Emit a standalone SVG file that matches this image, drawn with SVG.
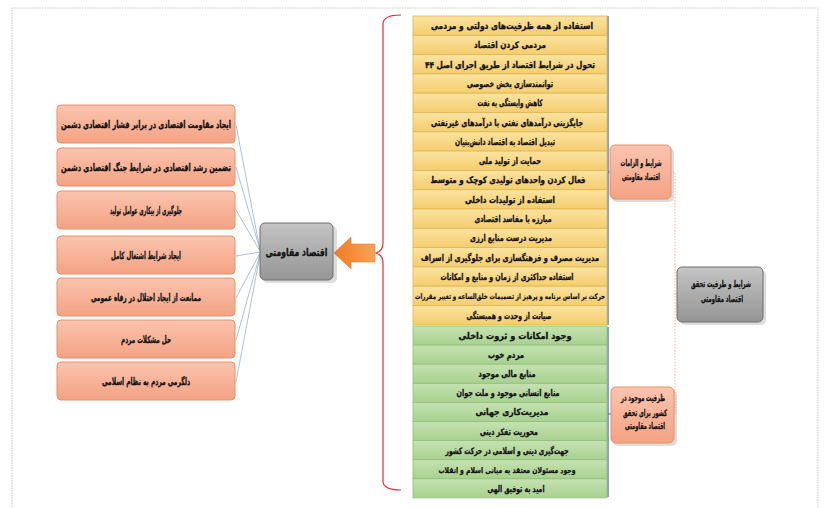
<svg xmlns="http://www.w3.org/2000/svg" width="825" height="508" viewBox="0 0 825 508">
<defs>
<linearGradient id="gy" x1="0" y1="0" x2="0" y2="1"><stop offset="0" stop-color="#fbe3a0"/><stop offset="1" stop-color="#f4cd6e"/></linearGradient>
<linearGradient id="gg" x1="0" y1="0" x2="0" y2="1"><stop offset="0" stop-color="#c5e2b2"/><stop offset="1" stop-color="#a9d18f"/></linearGradient>
<linearGradient id="gs" x1="0" y1="0" x2="0" y2="1"><stop offset="0" stop-color="#fbc4ae"/><stop offset="1" stop-color="#f4a283"/></linearGradient>
<linearGradient id="ga" x1="0" y1="0" x2="0" y2="1"><stop offset="0" stop-color="#c4c4c4"/><stop offset="1" stop-color="#959595"/></linearGradient>
<linearGradient id="go" x1="0" y1="0" x2="1" y2="0"><stop offset="0" stop-color="#f07a1e"/><stop offset="1" stop-color="#f9a45c"/></linearGradient>
</defs>
<style>
.t{font-family:"DejaVu Sans","Noto Sans",sans-serif;font-weight:bold;fill:#111;stroke:#111;stroke-width:0.3;text-anchor:middle;direction:rtl}
.s{font-size:9px}
.m{font-size:10px}
.y{fill:url(#gy);stroke:#e3b64e;stroke-width:0.8}
.g{fill:url(#gg);stroke:#8fbd78;stroke-width:0.8}
.o{fill:url(#gs);stroke:#e4906e;stroke-width:1}
.a{fill:url(#ga);stroke:#6f6f6f;stroke-width:1}
.sh{fill:#9a9a9a;opacity:0.35}
.c{stroke:#8ea3bd;stroke-width:0.7;fill:none}
</style>
<rect x="12" y="8" width="806" height="512" fill="#fff" stroke="#c8c8c8" stroke-width="1" stroke-dasharray="1.5,1"/>

<g id="connectors">
<path class="c" d="M236 125 L260 250 M236 167 L260 250 M236 210 L260 251 M236 256 L260 252 M236 298 L260 253 M236 340 L260 254 M236 382 L260 255"/>
<path d="M401 15 Q383 15 383 24 L383 243 Q383 251 376 253 Q383 255 383 263 L383 481 Q383 490 401 490" fill="none" stroke="#e0303a" stroke-width="1.2"/>
<path d="M375 244 L351 244 L351 237 L334 253 L351 269 L351 262 L375 262 Z" fill="url(#go)" stroke="#e06a10" stroke-width="0.5"/>
<path d="M608 16 L608 325 M608 172 L611 172" stroke="#3d5fb5" stroke-width="1.2" fill="none"/>
<path d="M608 327 L608 497 M608 414 L611 414" stroke="#3d5fb5" stroke-width="1.2" fill="none"/>
<path d="M670 172 L675 172 L675 414 L674 414 M675 294 L677 294" stroke="#f3b08a" stroke-width="1" stroke-dasharray="1.5,1.5" fill="none"/>
</g>

<g id="center">
<rect class="sh" x="263" y="226" width="74" height="57" rx="5"/>
<rect class="a" x="260" y="223" width="73" height="57" rx="5"/>
<text class="t" x="296.5" y="256" style="font-size:11px" textLength="62" lengthAdjust="spacingAndGlyphs">اقتصاد مقاومتی</text>
</g>

<g id="left">
<g id="l1"><rect class="o" x="57" y="105" width="178" height="38" rx="4"/><text class="t m" x="146" y="127.5" textLength="170" lengthAdjust="spacingAndGlyphs">ایجاد مقاومت اقتصادی در برابر فشار اقتصادی دشمن</text></g>
<g id="l2"><rect class="o" x="57" y="148" width="178" height="38" rx="4"/><text class="t m" x="146" y="170.5" textLength="170" lengthAdjust="spacingAndGlyphs">تضمین رشد اقتصادی در شرایط جنگ اقتصادی دشمن</text></g>
<g id="l3"><rect class="o" x="57" y="191" width="178" height="38" rx="4"/><text class="t m" x="146" y="213.5" textLength="72" lengthAdjust="spacingAndGlyphs">جلوگیری از بیکاری عوامل تولید</text></g>
<g id="l4"><rect class="o" x="57" y="236" width="178" height="38" rx="4"/><text class="t m" x="146" y="258.5" textLength="70" lengthAdjust="spacingAndGlyphs">ایجاد شرایط اشتغال کامل</text></g>
<g id="l5"><rect class="o" x="57" y="278" width="178" height="38" rx="4"/><text class="t m" x="146" y="300.5" textLength="110" lengthAdjust="spacingAndGlyphs">ممانعت از ایجاد اختلال در رفاه عمومی</text></g>
<g id="l6"><rect class="o" x="57" y="320" width="178" height="38" rx="4"/><text class="t m" x="146" y="342.5" textLength="50" lengthAdjust="spacingAndGlyphs">حل مشکلات مردم</text></g>
<g id="l7"><rect class="o" x="57" y="362" width="178" height="38" rx="4"/><text class="t m" x="146" y="384.5" textLength="88" lengthAdjust="spacingAndGlyphs">دلگرمی مردم به نظام اسلامی</text></g>
</g>

<g id="yellow">
<g id="y1"><rect class="y" x="413" y="16" width="194" height="19.3"/><text class="t s" x="512" y="29" textLength="162" lengthAdjust="spacingAndGlyphs">استفاده از همه ظرفیت‌های دولتی و مردمی</text></g>
<g id="y2"><rect class="y" x="413" y="35.3" width="194" height="19.3"/><text class="t s" x="510" y="48.3" textLength="72" lengthAdjust="spacingAndGlyphs">مردمی کردن اقتصاد</text></g>
<g id="y3"><rect class="y" x="413" y="54.6" width="194" height="19.3"/><text class="t s" x="510" y="67.6" textLength="170" lengthAdjust="spacingAndGlyphs">تحول در شرایط اقتصاد از طریق اجرای اصل ۴۴</text></g>
<g id="y4"><rect class="y" x="413" y="73.9" width="194" height="19.3"/><text class="t s" x="510" y="86.9" textLength="86" lengthAdjust="spacingAndGlyphs">توانمندسازی بخش خصوصی</text></g>
<g id="y5"><rect class="y" x="413" y="93.2" width="194" height="19.3"/><text class="t s" x="510" y="106.2" textLength="65" lengthAdjust="spacingAndGlyphs">کاهش وابستگی به نفت</text></g>
<g id="y6"><rect class="y" x="413" y="112.5" width="194" height="19.3"/><text class="t s" x="507" y="125.5" textLength="152" lengthAdjust="spacingAndGlyphs">جایگزینی درآمدهای نفتی با درآمدهای غیرنفتی</text></g>
<g id="y7"><rect class="y" x="413" y="131.8" width="194" height="19.3"/><text class="t s" x="505" y="144.8" textLength="100" lengthAdjust="spacingAndGlyphs">تبدیل اقتصاد به اقتصاد دانش‌بنیان</text></g>
<g id="y8"><rect class="y" x="413" y="151.1" width="194" height="19.3"/><text class="t s" x="510" y="164.1" textLength="62" lengthAdjust="spacingAndGlyphs">حمایت از تولید ملی</text></g>
<g id="y9"><rect class="y" x="413" y="170.4" width="194" height="19.3"/><text class="t s" x="508" y="183.4" textLength="155" lengthAdjust="spacingAndGlyphs">فعال کردن واحدهای تولیدی کوچک و متوسط</text></g>
<g id="y10"><rect class="y" x="413" y="189.7" width="194" height="19.3"/><text class="t s" x="510" y="202.7" textLength="90" lengthAdjust="spacingAndGlyphs">استفاده از تولیدات داخلی</text></g>
<g id="y11"><rect class="y" x="413" y="209" width="194" height="19.3"/><text class="t s" x="513" y="222" textLength="77" lengthAdjust="spacingAndGlyphs">مبارزه با مفاسد اقتصادی</text></g>
<g id="y12"><rect class="y" x="413" y="228.3" width="194" height="19.3"/><text class="t s" x="511" y="241.3" textLength="82" lengthAdjust="spacingAndGlyphs">مدیریت درست منابع ارزی</text></g>
<g id="y13"><rect class="y" x="413" y="247.6" width="194" height="19.3"/><text class="t s" x="510" y="260.6" textLength="178" lengthAdjust="spacingAndGlyphs">مدیریت مصرف و فرهنگسازی برای جلوگیری از اسراف</text></g>
<g id="y14"><rect class="y" x="413" y="266.9" width="194" height="19.3"/><text class="t s" x="507" y="279.9" textLength="133" lengthAdjust="spacingAndGlyphs">استفاده حداکثری از زمان و منابع و امکانات</text></g>
<g id="y15"><rect class="y" x="413" y="286.2" width="194" height="19.3"/><text class="t" x="510" y="298.9" style="font-size:7.5px;stroke-width:0.2" textLength="190" lengthAdjust="spacingAndGlyphs">حرکت بر اساس برنامه و پرهیز از تصمیمات خلق‌الساعه و تغییر مقررات</text></g>
<g id="y16"><rect class="y" x="413" y="305.5" width="194" height="19.3"/><text class="t s" x="509" y="318.5" textLength="85" lengthAdjust="spacingAndGlyphs">صیانت از وحدت و همبستگی</text></g>
</g>

<g id="green">
<g id="g1"><rect class="g" x="413" y="326" width="194" height="19.1"/><text class="t s" x="515" y="339" textLength="113" lengthAdjust="spacingAndGlyphs">وجود امکانات و ثروت داخلی</text></g>
<g id="g2"><rect class="g" x="413" y="345.1" width="194" height="19.1"/><text class="t s" x="506" y="358.1" textLength="36" lengthAdjust="spacingAndGlyphs">مردم خوب</text></g>
<g id="g3"><rect class="g" x="413" y="364.2" width="194" height="19.1"/><text class="t s" x="507" y="377.2" textLength="57" lengthAdjust="spacingAndGlyphs">منابع مالی موجود</text></g>
<g id="g4"><rect class="g" x="413" y="383.3" width="194" height="19.1"/><text class="t s" x="508" y="396.3" textLength="103" lengthAdjust="spacingAndGlyphs">منابع انسانی موجود و ملت جوان</text></g>
<g id="g5"><rect class="g" x="413" y="402.4" width="194" height="19.1"/><text class="t s" x="512" y="415.4" textLength="73" lengthAdjust="spacingAndGlyphs">مدیریت‌کاری جهانی</text></g>
<g id="g6"><rect class="g" x="413" y="421.5" width="194" height="19.1"/><text class="t s" x="509" y="434.5" textLength="58" lengthAdjust="spacingAndGlyphs">محوریت تفکر دینی</text></g>
<g id="g7"><rect class="g" x="413" y="440.6" width="194" height="19.1"/><text class="t s" x="507" y="453.6" textLength="123" lengthAdjust="spacingAndGlyphs">جهت‌گیری دینی و اسلامی در حرکت کشور</text></g>
<g id="g8"><rect class="g" x="413" y="459.7" width="194" height="19.1"/><text class="t" x="507" y="472.6" style="font-size:8px;stroke-width:0.25" textLength="137" lengthAdjust="spacingAndGlyphs">وجود مسئولان معتقد به مبانی اسلام و انقلاب</text></g>
<g id="g9"><rect class="g" x="413" y="478.8" width="194" height="19.1"/><text class="t s" x="516" y="491.8" textLength="57" lengthAdjust="spacingAndGlyphs">امید به توفیق الهی</text></g>
</g>

<g id="cond">
<rect class="sh" x="612" y="148" width="62" height="54" rx="5"/>
<rect class="o" x="610" y="145" width="61" height="54" rx="5"/>
<text class="t" x="641" y="166" style="font-size:9px" textLength="41" lengthAdjust="spacingAndGlyphs">شرایط و الزامات</text>
<text class="t" x="641" y="179.5" style="font-size:9px" textLength="38" lengthAdjust="spacingAndGlyphs">اقتصاد مقاومتی</text>
</g>

<g id="capacity">
<rect class="sh" x="613" y="390" width="64" height="56" rx="5"/>
<rect class="o" x="611" y="387" width="63" height="56" rx="5"/>
<text class="t" x="643" y="401" style="font-size:9px" textLength="44" lengthAdjust="spacingAndGlyphs">ظرفیت موجود در</text>
<text class="t" x="645" y="415.5" style="font-size:9px" textLength="44" lengthAdjust="spacingAndGlyphs">کشور برای تحقق</text>
<text class="t" x="645" y="429" style="font-size:9px" textLength="40" lengthAdjust="spacingAndGlyphs">اقتصاد مقاومتی</text>
</g>

<g id="realization">
<rect class="sh" x="680" y="270" width="86" height="55" rx="5"/>
<rect class="a" x="677" y="267" width="86" height="55" rx="5"/>
<text class="t" x="721" y="287" style="font-size:9px" textLength="60" lengthAdjust="spacingAndGlyphs">شرایط و ظرفیت تحقق</text>
<text class="t" x="722" y="302" style="font-size:9px" textLength="42" lengthAdjust="spacingAndGlyphs">اقتصاد مقاومتی</text>
</g>
</svg>
